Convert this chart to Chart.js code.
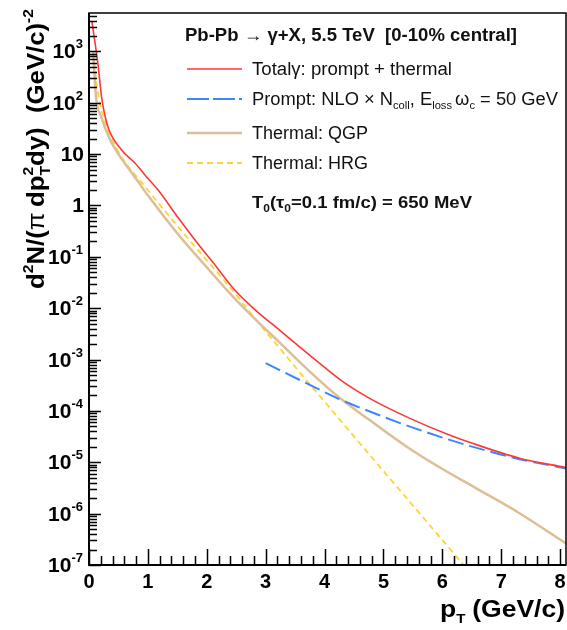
<!DOCTYPE html>
<html>
<head>
<meta charset="utf-8">
<script src="https://cdn.jsdelivr.net/npm/chart.js@4.4.1/dist/chart.umd.min.js"></script>
<style>
  html, body { margin: 0; padding: 0; background: #fff; }
  canvas { display: block; }
</style>
</head>
<body>
<canvas id="spectrum" width="567" height="630"></canvas>
<script>
// values (pT in GeV/c, yield in (GeV/c)^-2)
const totalPt = [0.05, 0.15, 0.22, 0.32, 0.55, 0.78, 0.97, 1.17, 1.54, 1.93, 2.10, 2.44, 2.84, 3.23, 3.86, 4.31, 4.82, 5.44, 6.12, 6.46, 7.31, 8.1];
const totalYield = [3800, 589, 115, 34.7, 12.2, 6.7, 3.67, 2.02, 0.526, 0.137, 0.0794, 0.0251, 8.9e-3, 3.8e-3, 9.55e-4, 3.72e-4, 1.62e-4, 7.24e-5, 3.39e-5, 2.45e-5, 1.2e-5, 7.9e-6];

const promptPt = [3.0, 3.69, 4.25, 4.99, 5.44, 6.06, 6.46, 7.31, 8.1];
const promptYield = [8.5e-4, 3.47e-4, 1.7e-4, 7.76e-5, 5.0e-5, 2.88e-5, 2.09e-5, 1.15e-5, 7.6e-6];

const qgpPt = [0.07, 0.12, 0.2, 0.35, 0.5, 0.75, 1.0, 1.54, 1.99, 2.44, 2.89, 3.23, 3.69, 4.25, 4.76, 5.44, 5.98, 6.63, 7.31, 8.1];
const qgpYield = [1000, 126, 56, 20, 10, 3.98, 1.58, 0.251, 0.0646, 0.017, 5.13e-3, 2.19e-3, 6.76e-4, 1.82e-4, 6.7e-5, 1.86e-5, 7.66e-6, 2.88e-6, 1.02e-6, 2.63e-7];

const hrgPt = [0.07, 0.15, 0.26, 0.5, 1.0, 1.59, 2.5, 2.72, 3.29, 3.74, 4.03, 4.59, 5.0, 5.44, 5.9, 6.4, 6.55];
const hrgYield = [1000, 158, 46.8, 11.2, 2.0, 0.302, 0.0182, 8.7e-3, 1.41e-3, 3.39e-4, 1.38e-4, 2.4e-5, 6.76e-6, 1.74e-6, 4.17e-7, 8.9e-8, 5.6e-8];

const xTicks = [0, 1, 2, 3, 4, 5, 6, 7, 8];
const yExponents = [-7, -6, -5, -4, -3, -2, -1, 0, 1, 2, 3];

const FONT = "'Liberation Sans', Arial, Helvetica, sans-serif";

function points(xs, ys) {
  return xs.map((x, i) => ({ x: x, y: ys[i] }));
}

// draw a run of text pieces (sub/superscripts) on one baseline,
// optionally stretched to a target width (ROOT's Helvetica runs wide)
function drawRich(ctx, parts, x, y, align, targetW) {
  let width = 0;
  parts.forEach(p => {
    ctx.font = (p.bold ? "bold " : "") + p.size + "px " + FONT;
    p.w = ctx.measureText(p.t).width;
    if (p.adv !== false) width += p.w + (p.gap || 0);
  });
  const sx = targetW ? targetW / width : 1;
  const total = width * sx;
  let start = x;
  if (align === "right") start = x - total;
  if (align === "center") start = x - total / 2;
  ctx.save();
  ctx.translate(start, y);
  ctx.scale(sx, 1);
  ctx.textBaseline = "alphabetic";
  ctx.textAlign = "left";
  let cx = 0;
  parts.forEach(p => {
    ctx.font = (p.bold ? "bold " : "") + p.size + "px " + FONT;
    ctx.fillText(p.t, cx, p.dy || 0);
    if (p.adv !== false) cx += p.w + (p.gap || 0);
  });
  ctx.restore();
  return total;
}

const rootFrame = {
  id: "rootFrame",
  afterDraw(chart) {
    const ctx = chart.ctx;
    const { left, right, top, bottom } = chart.chartArea;
    const xs = chart.scales.x, ys = chart.scales.y;
    ctx.save();
    ctx.fillStyle = "#000";
    ctx.strokeStyle = "#000";

    // frame
    ctx.lineWidth = 1.5;
    ctx.strokeRect(left, top, right - left, bottom - top);
    ctx.lineWidth = 2;
    ctx.beginPath();
    ctx.moveTo(left, top); ctx.lineTo(left, bottom); ctx.lineTo(right, bottom);
    ctx.stroke();

    // x ticks, pointing up into the plot
    ctx.lineWidth = 1.5;
    ctx.beginPath();
    for (let i = 0; i <= 40; i++) {
      const v = i * 0.2;
      const px = Math.round(xs.getPixelForValue(v)) + 0.5;
      const len = i % 5 === 0 ? 16 : 9;
      ctx.moveTo(px, bottom); ctx.lineTo(px, bottom - len);
    }
    ctx.stroke();

    // y ticks (log), pointing right
    ctx.beginPath();
    for (let e = -7; e <= 3; e++) {
      for (let m = 1; m <= 9; m++) {
        const v = m * Math.pow(10, e);
        if (v > ys.max || v < ys.min) continue;
        const py = Math.round(ys.getPixelForValue(v)) + 0.5;
        const len = m === 1 ? 12 : 8;
        ctx.moveTo(left, py); ctx.lineTo(left + len, py);
      }
    }
    ctx.stroke();

    // x tick labels
    ctx.textAlign = "center";
    ctx.textBaseline = "alphabetic";
    ctx.font = "bold 20px " + FONT;
    xs.ticks.forEach(t => {
      ctx.fillText(String(t.value), xs.getPixelForValue(t.value), 588);
    });

    // y tick labels
    ys.ticks.forEach(t => {
      const e = Math.round(Math.log10(t.value));
      const py = ys.getPixelForValue(t.value) + 7;
      let parts;
      if (e === 0) parts = [{ t: "1", size: 21, bold: true }];
      else if (e === 1) parts = [{ t: "10", size: 21, bold: true }];
      else parts = [{ t: "10", size: 21, bold: true }, { t: String(e), size: 13, bold: true, dy: -10, gap: 1 }];
      drawRich(ctx, parts, left - 5, py, "right");
    });

    // x title
    drawRich(ctx, [
      { t: "p", size: 23, bold: true },
      { t: "T", size: 13, bold: true, dy: 6, gap: 6 },
      { t: "(GeV/c)", size: 23, bold: true }
    ], right - 1, 617, "right", 125);

    // y title, rotated
    ctx.save();
    ctx.translate(44, 289);
    ctx.rotate(-Math.PI / 2);
    drawRich(ctx, [
      { t: "d", size: 23, bold: true },
      { t: "2", size: 14, bold: true, dy: -11 },
      { t: "N/(", size: 23, bold: true },
      { t: "\u03c0", size: 23, bold: false, gap: 5 },
      { t: "dp", size: 23, bold: true },
      { t: "2", size: 14, bold: true, dy: -11, adv: false },
      { t: "T", size: 14, bold: true, dy: 6 },
      { t: "dy)  (GeV/c)", size: 23, bold: true },
      { t: "-2", size: 14, bold: true, dy: -11 }
    ], 0, 0, "left", 280);
    ctx.restore();

    // legend block
    ctx.fillStyle = "#111";
    drawRich(ctx, [{ t: "Pb-Pb \u2192 \u03b3+X, 5.5 TeV  [0-10% central]", size: 18, bold: true }], 185, 41, "left", 332);

    const rows = [69, 99, 133, 163];
    const labels = [
      [{ t: "Total\u03b3: prompt + thermal", size: 18 }],
      [{ t: "Prompt: NLO \u00d7 N", size: 18 }, { t: "coll", size: 11, dy: 4 }, { t: ", E", size: 18 },
       { t: "loss", size: 11, dy: 4, gap: 3 }, { t: "\u03c9", size: 18 }, { t: "c", size: 11, dy: 4 }, { t: " = 50 GeV", size: 18 }],
      [{ t: "Thermal: QGP", size: 18 }],
      [{ t: "Thermal: HRG", size: 18 }]
    ];
    const labelW = [200, 306, 0, 0];
    chart.data.datasets.forEach((ds, i) => {
      ctx.save();
      ctx.strokeStyle = ds.borderColor;
      ctx.lineWidth = ds.borderWidth;
      ctx.setLineDash(ds.legendDash || []);
      ctx.beginPath();
      ctx.moveTo(187, rows[i]); ctx.lineTo(242, rows[i]);
      ctx.stroke();
      ctx.restore();
      drawRich(ctx, labels[i], 252, rows[i] + 6, "left", labelW[i] || (labels[i][0].t.length * 0 + 0) || undefined);
    });

    drawRich(ctx, [
      { t: "T", size: 17, bold: true }, { t: "0", size: 11, bold: true, dy: 4 },
      { t: "(\u03c4", size: 17, bold: true }, { t: "0", size: 11, bold: true, dy: 4 },
      { t: "=0.1 fm/c) = 650 MeV", size: 17, bold: true }
    ], 252, 208, "left", 220);

    ctx.restore();
  }
};

new Chart(document.getElementById("spectrum"), {
  type: "line",
  data: {
    datasets: [
      {
        label: "Total",
        data: points(totalPt, totalYield),
        borderColor: "rgb(255, 55, 55)",
        borderWidth: 1.6,
        legendDash: []
      },
      {
        label: "Prompt",
        data: points(promptPt, promptYield),
        borderColor: "rgb(60, 135, 255)",
        borderWidth: 2,
        borderDash: [16, 6],
        legendDash: [22, 4, 22, 4, 4, 2]
      },
      {
        label: "Thermal: QGP",
        data: points(qgpPt, qgpYield),
        borderColor: "rgb(222, 190, 150)",
        borderWidth: 2.5,
        legendDash: []
      },
      {
        label: "Thermal: HRG",
        data: points(hrgPt, hrgYield),
        borderColor: "rgb(255, 212, 50)",
        borderWidth: 1.8,
        borderDash: [6, 4],
        legendDash: [6, 4]
      }
    ]
  },
  options: {
    responsive: false,
    animation: false,
    devicePixelRatio: 1,
    layout: { padding: { top: 13, right: 1, left: 0, bottom: 0 } },
    elements: {
      point: { radius: 0 },
      line: { cubicInterpolationMode: "monotone", fill: false }
    },
    plugins: {
      legend: { display: false },
      tooltip: { enabled: false }
    },
    scales: {
      x: {
        type: "linear",
        min: 0,
        max: 8.1,
        grid: { display: false },
        border: { display: false },
        ticks: { display: false },
        afterBuildTicks: s => { s.ticks = xTicks.map(v => ({ value: v })); },
        afterFit: s => { s.height = 65; }
      },
      y: {
        type: "logarithmic",
        min: 1e-7,
        max: 5.6e3,
        grid: { display: false },
        border: { display: false },
        ticks: { display: false },
        afterBuildTicks: s => { s.ticks = yExponents.map(e => ({ value: Math.pow(10, e) })); },
        afterFit: s => { s.width = 89; }
      }
    }
  },
  plugins: [rootFrame]
});
</script>
</body>
</html>
